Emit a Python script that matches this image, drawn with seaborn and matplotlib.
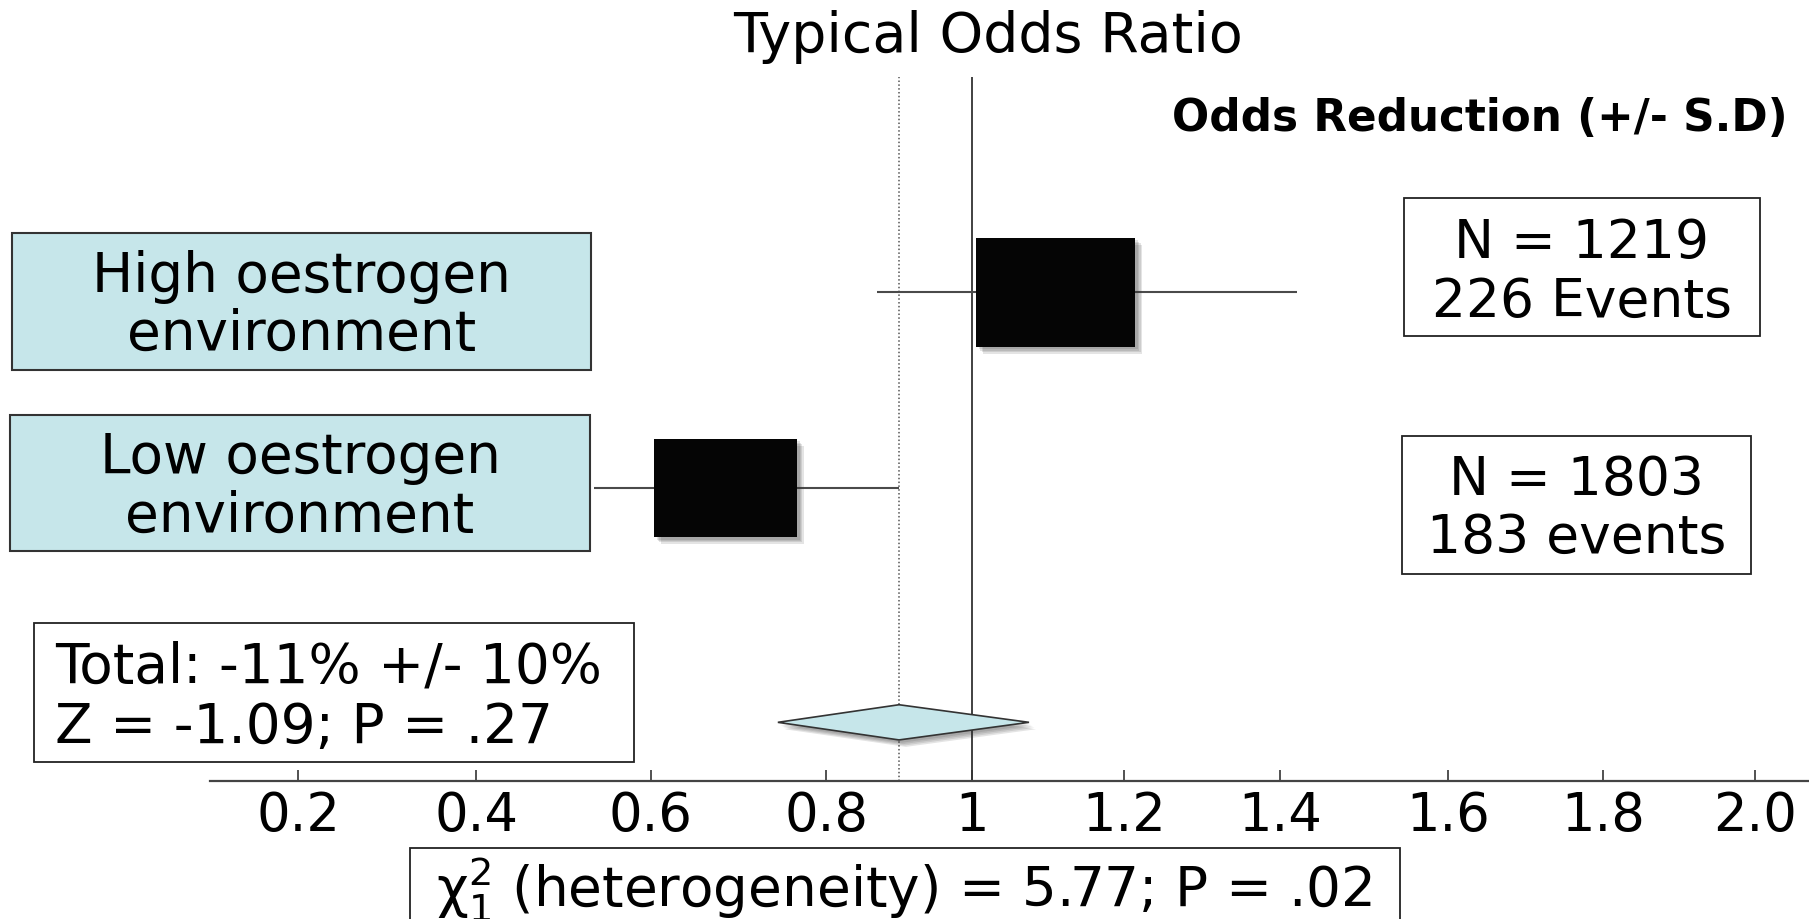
import numpy as np
import pandas as pd
import matplotlib
matplotlib.use("Agg")
import matplotlib.pyplot as plt
import matplotlib.transforms as mtransforms
import matplotlib.patheffects as pe
from matplotlib.patches import Rectangle, Polygon
from matplotlib.path import Path
import seaborn as sns

# ---------------- data ----------------
groups = ["High oestrogen environment", "Low oestrogen environment"]
group_lines = [["High oestrogen", "environment"], ["Low oestrogen", "environment"]]
odds_ratio = [1.11, 0.685]
ci_low = [0.87, 0.535]
ci_high = [1.42, 0.90]
n_patients = [1219, 1803]
n_events = [226, 183]
event_word = ["Events", "events"]
total_or = 0.90
total_ci_low = 0.745
total_ci_high = 1.075
total_text = ["Total: -11% +/- 10%", "Z = -1.09; P = .27"]
het_text = "\u03c7$^2_1$ (heterogeneity) = 5.77; P = .02"
tick_values = [0.2, 0.4, 0.6, 0.8, 1.0, 1.2, 1.4, 1.6, 1.8, 2.0]
tick_labels = ["0.2", "0.4", "0.6", "0.8", "1", "1.2", "1.4", "1.6", "1.8", "2.0"]

# ---------------- style ----------------
sns.set_style("white")
plt.rcParams["font.family"] = ["DejaVu Sans"]
plt.rcParams["mathtext.fontset"] = "dejavusans"
plt.rcParams["text.color"] = "black"

W, H = 1809, 920
fig = plt.figure(figsize=(W / 100, H / 100), dpi=100)
fig.patch.set_facecolor("white")
px = mtransforms.Affine2D().scale(1 / W, -1 / H).translate(0, 1) + fig.transFigure

# hand-drawn (irregular) axis of the original slide: piecewise-linear scale
tick_px = np.array([298, 476, 651, 826, 972, 1124, 1280, 1448, 1603, 1755], float)
tv = np.array(tick_values, float)
sl0 = (tick_px[1] - tick_px[0]) / (tv[1] - tv[0])
sl1 = (tick_px[-1] - tick_px[-2]) / (tv[-1] - tv[-2])


def fwd(x):
    x = np.asarray(x, float)
    y = np.interp(x, tv, tick_px)
    y = np.where(x < tv[0], tick_px[0] + (x - tv[0]) * sl0, y)
    y = np.where(x > tv[-1], tick_px[-1] + (x - tv[-1]) * sl1, y)
    return y


def inv(p):
    p = np.asarray(p, float)
    x = np.interp(p, tick_px, tv)
    x = np.where(p < tick_px[0], tv[0] + (p - tick_px[0]) / sl0, x)
    x = np.where(p > tick_px[-1], tv[-1] + (p - tick_px[-1]) / sl1, x)
    return x


ax_left, ax_top, ax_bottom = 210, 78, 782
ax = fig.add_axes([ax_left / W, (H - ax_bottom) / H, (W - ax_left) / W, (ax_bottom - ax_top) / H])
ax.patch.set_visible(False)
ax.set_xscale("function", functions=(fwd, inv))
ax.set_xlim(float(inv(ax_left)), float(inv(W)))
ax.set_ylim(2.5, -1.1)

row_y = np.arange(len(groups))
total_y = 2.2

shadow = [pe.SimplePatchShadow(offset=(o, -o), shadow_rgbFace="0.2", alpha=0.13) for o in (2, 3, 4, 5)]

# reference lines
ax.axvline(1.0, color="#333333", lw=1.3, zorder=1)
ax.axvline(total_or, color="#555555", lw=1.1, ls=(0, (1, 1.5)), zorder=1)

# confidence intervals
ax.hlines(row_y, ci_low, ci_high, color="#4a4a4a", lw=1.5, zorder=2)

# boxes sized by number of events
df = pd.DataFrame({"group": groups, "odds_ratio": odds_ratio, "y": row_y, "events": n_events})
asp = 0.686
rect = Path([(-1, -asp), (1, -asp), (1, asp), (-1, asp), (-1, -asp)], closed=True)
sns.scatterplot(data=df, x="odds_ratio", y="y", s=np.array(n_events) * 58.0, marker=rect,
                color="#050505", edgecolor="none", linewidth=0, legend=False, ax=ax, zorder=3,
                path_effects=shadow + [pe.Normal()])

# pooled diamond
dh = 0.09
diamond = Polygon([(total_ci_low, total_y), (total_or, total_y - dh), (total_ci_high, total_y),
                   (total_or, total_y + dh)], closed=True, facecolor="#c6e6ea",
                  edgecolor="#333333", lw=1.2, zorder=3, path_effects=shadow + [pe.Normal()])
ax.add_patch(diamond)

# axis
for s in ["top", "left", "right"]:
    ax.spines[s].set_visible(False)
ax.spines["bottom"].set_color("#444444")
ax.spines["bottom"].set_linewidth(1.6)
ax.set_xticks(tick_values)
ax.set_xticklabels(tick_labels)
ax.xaxis.set_minor_locator(matplotlib.ticker.NullLocator())
ax.tick_params(axis="x", bottom=True, direction="in", length=8, width=1.2, color="#333333",
               labelsize=38, pad=6, labelcolor="black")
ax.set_yticks([])
ax.set_xlabel("")
ax.set_ylabel("")

# ---------------- annotations ----------------
fs = 38.5
fig.text(988, 52, "Typical Odds Ratio", transform=px, ha="center", va="baseline", fontsize=40)
fig.text(1480, 131, "Odds Reduction (+/- S.D)", transform=px, ha="center", va="baseline",
         fontsize=31.5, fontweight="bold")

# group label boxes
label_boxes = [(12, 234, 579, 137), (10, 416, 580, 136)]
label_base = [(292, 350), (473, 532)]
for (x0, y0, w, h), lines, bases in zip(label_boxes, group_lines, label_base):
    fig.add_artist(Rectangle((x0, y0), w, h, transform=px, facecolor="#c6e6ea",
                             edgecolor="#333333", lw=1.5))
    for line, b in zip(lines, bases):
        fig.text(x0 + w / 2, b, line, transform=px, ha="center", va="baseline", fontsize=39.5)

# N / events boxes
n_boxes = [(1404, 199, 356, 138), (1402, 437, 349, 138)]
n_base = [(258, 317), (495, 553)]
for (x0, y0, w, h), n, e, word, bases in zip(n_boxes, n_patients, n_events, event_word, n_base):
    fig.add_artist(Rectangle((x0, y0), w, h, transform=px, facecolor="white",
                             edgecolor="#222222", lw=1.3))
    fig.text(x0 + w / 2, bases[0], f"N = {n}", transform=px, ha="center", va="baseline", fontsize=fs)
    fig.text(x0 + w / 2, bases[1], f"{e} {word}", transform=px, ha="center", va="baseline", fontsize=fs)

# total box
fig.add_artist(Rectangle((34, 624), 600, 139, transform=px, facecolor="white",
                         edgecolor="#222222", lw=1.3))
for line, b in zip(total_text, (683, 743)):
    fig.text(55, b, line, transform=px, ha="left", va="baseline", fontsize=39.5)

# heterogeneity box
fig.add_artist(Rectangle((410, 849), 990, 120, transform=px, facecolor="white",
                         edgecolor="#222222", lw=1.3))
fig.text(904, 906, het_text, transform=px, ha="center", va="baseline", fontsize=39.5)

fig.savefig("out.png", dpi=100, facecolor="white")
